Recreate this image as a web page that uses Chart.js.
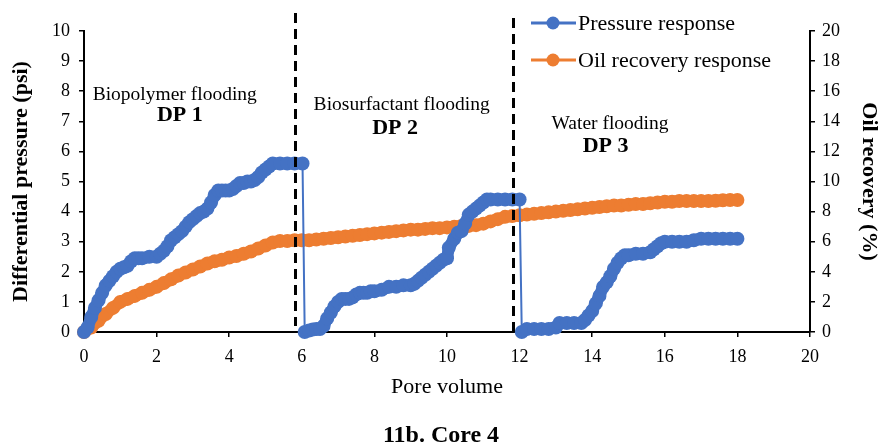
<!DOCTYPE html>
<html>
<head>
<meta charset="utf-8">
<script src="https://cdn.jsdelivr.net/npm/chart.js@4.4.1/dist/chart.umd.min.js"></script>
<style>
  body { margin: 0; background: #fff; }
  #wrap { width: 882px; height: 445px; }
</style>
</head>
<body>
<div id="wrap"><canvas id="chart" width="882" height="445"></canvas></div>
<script>
// Pressure response (psi) vs pore volume
const pvPressure = [0, 0.1, 0.2, 0.3, 0.4, 0.5, 0.6, 0.7, 0.8, 0.9, 1.0, 1.1, 1.2, 1.3, 1.4, 1.5, 1.6, 1.8, 2.0,
  2.1, 2.2, 2.3, 2.4, 2.5, 2.6, 2.7, 2.8, 2.9, 3.0, 3.1, 3.2, 3.3, 3.4, 3.5, 3.6, 3.7, 3.8, 3.9, 4.0,
  4.1, 4.2, 4.3, 4.4, 4.5, 4.6, 4.7, 4.8, 4.9, 5.0, 5.1, 5.2, 5.4, 5.6, 5.8, 6.02,
  6.08, 6.2, 6.3, 6.4, 6.5, 6.6, 6.7, 6.8, 6.9, 7.0, 7.1, 7.2, 7.3, 7.4, 7.5, 7.6, 7.7, 7.8, 7.9, 8.0,
  8.2, 8.4, 8.6, 8.8, 9.0, 9.1, 9.2, 9.3, 9.4, 9.5, 9.6, 9.7, 9.8, 9.9, 10.0, 10.05, 10.2, 10.3, 10.4,
  10.5, 10.6, 10.7, 10.8, 10.9, 11.0, 11.1, 11.2, 11.4, 11.6, 11.8, 12.0,
  12.06, 12.2, 12.4, 12.6, 12.8, 13.0, 13.1, 13.3, 13.5, 13.7, 13.8, 13.9, 14.0, 14.1, 14.2, 14.3, 14.4,
  14.5, 14.6, 14.7, 14.8, 14.9, 15.0, 15.2, 15.4, 15.6, 15.7, 15.8, 15.9, 16.0, 16.2, 16.4, 16.6, 16.8,
  17.0, 17.2, 17.4, 17.6, 17.8, 18.0];
const pressure = [0, 0.15, 0.5, 0.8, 1.05, 1.3, 1.55, 1.7, 1.85, 2.0, 2.1, 2.15, 2.2, 2.35, 2.45, 2.45, 2.45, 2.5, 2.5,
  2.6, 2.7, 2.85, 3.05, 3.15, 3.25, 3.35, 3.5, 3.65, 3.75, 3.85, 3.95, 4.0, 4.1, 4.3, 4.55, 4.7, 4.7, 4.7, 4.7,
  4.75, 4.85, 4.95, 4.95, 5.0, 5.0, 5.05, 5.15, 5.3, 5.4, 5.5, 5.6, 5.6, 5.6, 5.6, 5.6,
  0, 0.05, 0.08, 0.1, 0.1, 0.2, 0.45, 0.65, 0.85, 1.0, 1.1, 1.1, 1.1, 1.15, 1.25, 1.3, 1.3, 1.3, 1.35, 1.35,
  1.4, 1.5, 1.5, 1.55, 1.55, 1.6, 1.7, 1.8, 1.9, 2.0, 2.1, 2.2, 2.3, 2.4, 2.45, 2.8, 3.1, 3.3, 3.35,
  3.6, 3.9, 4.0, 4.1, 4.2, 4.3, 4.4, 4.4, 4.4, 4.4, 4.4, 4.4,
  0, 0.1, 0.1, 0.1, 0.1, 0.15, 0.3, 0.3, 0.3, 0.3, 0.4, 0.55, 0.7, 0.95, 1.2, 1.5, 1.65,
  1.85, 2.1, 2.3, 2.45, 2.55, 2.55, 2.6, 2.6, 2.65, 2.75, 2.85, 2.95, 3.0, 3.0, 3.0, 3.0, 3.05,
  3.1, 3.1, 3.1, 3.1, 3.1, 3.1];

// Oil recovery (%) vs pore volume
const pvOil = [0, 0.2, 0.4, 0.6, 0.8, 1.0, 1.2, 1.4, 1.6, 1.8, 2.0, 2.2, 2.4, 2.6, 2.8, 3.0, 3.2, 3.4, 3.6, 3.8,
  4.0, 4.2, 4.4, 4.6, 4.8, 5.0, 5.2, 5.4, 5.6, 5.8, 6.0, 6.2, 6.4, 6.6, 6.8, 7.0, 7.2, 7.4, 7.6, 7.8,
  8.0, 8.2, 8.4, 8.6, 8.8, 9.0, 9.2, 9.4, 9.6, 9.8, 10.0, 10.2, 10.4, 10.6, 10.8, 11.0, 11.2, 11.4, 11.6, 11.8,
  12.0, 12.2, 12.4, 12.6, 12.8, 13.0, 13.2, 13.4, 13.6, 13.8, 14.0, 14.2, 14.4, 14.6, 14.8, 15.0, 15.2, 15.4,
  15.6, 15.8, 16.0, 16.2, 16.4, 16.6, 16.8, 17.0, 17.2, 17.4, 17.6, 17.8, 18.0];
const oilRecovery = [0, 0.3, 0.75, 1.2, 1.6, 2.0, 2.2, 2.4, 2.6, 2.8, 3.0, 3.25, 3.5, 3.75, 3.95, 4.15, 4.35, 4.55, 4.7, 4.8,
  4.95, 5.05, 5.2, 5.35, 5.55, 5.75, 5.95, 6.05, 6.05, 6.1, 6.1, 6.1, 6.15, 6.2, 6.25, 6.3, 6.35, 6.4, 6.45, 6.5,
  6.55, 6.6, 6.65, 6.7, 6.75, 6.8, 6.8, 6.85, 6.9, 6.9, 6.95, 7.0, 7.05, 7.05, 7.1, 7.2, 7.35, 7.5, 7.65, 7.7,
  7.75, 7.8, 7.85, 7.9, 7.95, 8.0, 8.05, 8.1, 8.15, 8.2, 8.25, 8.3, 8.35, 8.4, 8.4, 8.45, 8.5, 8.5,
  8.55, 8.6, 8.65, 8.65, 8.7, 8.7, 8.7, 8.7, 8.7, 8.72, 8.75, 8.77, 8.77];

// Stage boundaries (pore volume)
const stageBreaks = [5.81, 11.82];

const BLUE = '#4472C4';
const ORANGE = '#ED7D31';
const SERIF = '"Liberation Serif", "Times New Roman", serif';

// Stage labels, placed in data units
const notes = [
  { text: 'Biopolymer flooding', x: 2.5, y: 7.87, bold: false },
  { text: 'DP 1', x: 2.64, y: 7.21, bold: true },
  { text: 'Biosurfactant flooding', x: 8.75, y: 7.54, bold: false },
  { text: 'DP 2', x: 8.57, y: 6.77, bold: true },
  { text: 'Water flooding', x: 14.49, y: 6.93, bold: false },
  { text: 'DP 3', x: 14.37, y: 6.16, bold: true }
];

function toPoints(xs, ys) {
  return xs.map((x, i) => ({ x: x, y: ys[i] }));
}

// Dashed lines, stage labels and the legend
const extras = {
  id: 'extras',
  afterDatasetsDraw(chart) {
    const ctx = chart.ctx;
    const xs = chart.scales.x;
    const ys = chart.scales.y;
    const area = chart.chartArea;

    ctx.save();
    ctx.strokeStyle = '#000';
    ctx.lineWidth = 3;
    ctx.setLineDash([10, 6]);
    stageBreaks.forEach((b, i) => {
      const px = Math.round(xs.getPixelForValue(b)) + 0.5;
      ctx.beginPath();
      ctx.moveTo(px, area.top - (i === 0 ? 18 : 13));
      ctx.lineTo(px, area.bottom - (i === 0 ? 6 : 0));
      ctx.stroke();
    });
    ctx.restore();

    ctx.save();
    ctx.fillStyle = '#000';
    ctx.textAlign = 'center';
    ctx.textBaseline = 'middle';
    notes.forEach(n => {
      ctx.font = (n.bold ? 'bold 22px ' : '19.5px ') + SERIF;
      ctx.fillText(n.text, xs.getPixelForValue(n.x), ys.getPixelForValue(n.y));
    });
    ctx.restore();

    // legend
    ctx.save();
    const items = [
      { label: 'Pressure response', color: BLUE, dy: -8 },
      { label: 'Oil recovery response', color: ORANGE, dy: 29 }
    ];
    items.forEach(it => {
      const y = area.top + it.dy;
      ctx.strokeStyle = it.color;
      ctx.lineWidth = 3;
      ctx.beginPath();
      ctx.moveTo(531, y);
      ctx.lineTo(576, y);
      ctx.stroke();
      ctx.fillStyle = it.color;
      ctx.beginPath();
      ctx.arc(553, y, 6.5, 0, Math.PI * 2);
      ctx.fill();
      ctx.fillStyle = '#000';
      ctx.font = '22px ' + SERIF;
      ctx.textAlign = 'left';
      ctx.textBaseline = 'middle';
      ctx.fillText(it.label, 578, y + 1);
    });
    ctx.restore();
  }
};

function segWidth(c) {
  return Math.abs(c.p1.parsed.y - c.p0.parsed.y) > 3 ? 2 : 12;
}

const axisTicks = { color: '#000', font: { family: SERIF, size: 18 } };
const axisGrid = { drawOnChartArea: false, drawTicks: true, tickLength: 5, color: '#000', tickColor: '#000', lineWidth: 1.5 };
const axisBorder = { display: true, color: '#000', width: 2 };
const titleFont = { family: SERIF, size: 22, weight: 'bold' };

new Chart(document.getElementById('chart'), {
  type: 'line',
  data: {
    datasets: [
      {
        label: 'Pressure response',
        data: toPoints(pvPressure, pressure),
        yAxisID: 'y',
        borderColor: BLUE,
        backgroundColor: BLUE,
        borderWidth: 12,
        borderCapStyle: 'round',
        borderJoinStyle: 'round',
        pointRadius: 7,
        pointBorderWidth: 0,
        pointBackgroundColor: BLUE,
        segment: { borderWidth: segWidth },
        clip: false,
        tension: 0
      },
      {
        label: 'Oil recovery response',
        data: toPoints(pvOil, oilRecovery),
        yAxisID: 'y1',
        borderColor: ORANGE,
        backgroundColor: ORANGE,
        borderWidth: 12,
        borderCapStyle: 'round',
        borderJoinStyle: 'round',
        pointRadius: 7,
        pointBorderWidth: 0,
        pointBackgroundColor: ORANGE,
        clip: false,
        tension: 0
      }
    ]
  },
  options: {
    responsive: false,
    animation: false,
    events: [],
    layout: { padding: { top: 31, left: 0, right: 0, bottom: 0 } },
    plugins: {
      legend: { display: false },
      tooltip: { enabled: false },
      title: {
        display: true,
        position: 'bottom',
        text: '11b. Core 4',
        color: '#000',
        font: { family: SERIF, size: 24, weight: 'bold', lineHeight: 0.75 },
        padding: { top: 25, bottom: 0 }
      }
    },
    scales: {
      x: {
        type: 'linear',
        min: 0,
        max: 20,
        ticks: Object.assign({ stepSize: 2, padding: 9 }, axisTicks),
        grid: axisGrid,
        border: axisBorder,
        title: { display: true, text: 'Pore volume', color: '#000', font: { family: SERIF, size: 22 }, padding: { top: 4, bottom: 1.8 } },
        afterFit: s => { s.height = 70; }
      },
      y: {
        position: 'left',
        min: 0,
        max: 10,
        ticks: Object.assign({ stepSize: 1, padding: 9 }, axisTicks),
        grid: axisGrid,
        border: axisBorder,
        title: { display: true, text: 'Differential pressure (psi)', color: '#000', font: titleFont, padding: { top: 8, bottom: 0 } },
        afterFit: s => { s.width = 84; }
      },
      y1: {
        position: 'right',
        min: 0,
        max: 20,
        ticks: Object.assign({ stepSize: 2, padding: 7 }, axisTicks),
        grid: axisGrid,
        border: axisBorder,
        title: { display: true, text: 'Oil recovery (%)', color: '#000', font: titleFont, padding: { top: 0, bottom: 0 } },
        afterFit: s => { s.width = 72; }
      }
    }
  },
  plugins: [extras]
});
</script>
</body>
</html>
